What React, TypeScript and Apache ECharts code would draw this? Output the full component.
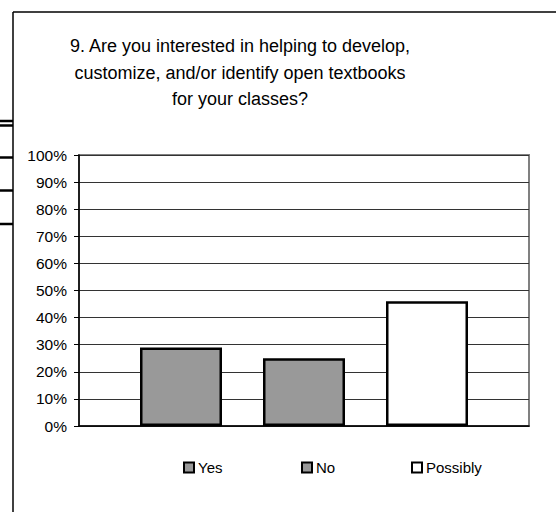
import React, { useEffect, useRef } from "react";
import * as echarts from "echarts";

const titleLines = [
  "9. Are you interested in helping to develop,",
  "customize, and/or identify open textbooks",
  "for your classes?",
];
const categories = [""];
const seriesNames = ["Yes", "No", "Possibly"];
const seriesValues = [29, 25, 46];
const seriesFills = ["#999999", "#999999", "#ffffff"];
const legendLefts = [183, 301, 411];

const FONT = "'Liberation Sans', Arial, sans-serif";

export default function App() {
  const ref = useRef<HTMLDivElement>(null);
  useEffect(() => {
    if (!ref.current) return;
    const chart = echarts.init(ref.current, null, { renderer: "svg" });
    const stubYs = [121, 125.5, 157.5, 190.5, 224];
    chart.setOption({
      animation: false,
      backgroundColor: "#ffffff",
      title: {
        text: titleLines.join("\n"),
        left: 240,
        top: 33,
        padding: 0,
        textAlign: "center",
        textStyle: {
          fontFamily: FONT,
          fontSize: 18,
          fontWeight: "normal",
          color: "#000",
          lineHeight: 26.5,
        },
      },
      legend: seriesNames.map((n, i) => ({
        data: [
          {
            name: n,
            icon: "rect",
            itemStyle: { color: seriesFills[i], borderColor: "#000", borderWidth: 2 },
          },
        ],
        left: legendLefts[i],
        top: 460,
        padding: 0,
        itemWidth: 10,
        itemHeight: 10,
        selectedMode: false,
        textStyle: { fontFamily: FONT, fontSize: 15, color: "#000", padding: [0, 0, 0, -1] },
      })),
      grid: {
        left: 79,
        right: 27,
        top: 155,
        bottom: 86,
        show: true,
        borderColor: "#808080",
        borderWidth: 2,
        containLabel: false,
      },
      xAxis: {
        type: "category",
        data: categories,
        axisLine: { show: true, lineStyle: { color: "#000", width: 1.5 } },
        axisTick: { show: false },
        axisLabel: { show: false },
        splitLine: { show: false },
      },
      yAxis: {
        type: "value",
        min: 0,
        max: 100,
        interval: 10,
        axisLine: { show: true, lineStyle: { color: "#000", width: 1.5 } },
        axisTick: { show: true, length: 5, lineStyle: { color: "#000", width: 1 } },
        axisLabel: {
          formatter: "{value}%",
          fontFamily: FONT,
          fontSize: 15.5,
          color: "#000",
          margin: 12,
        },
        splitLine: { show: true, lineStyle: { color: "#333", width: 1 } },
      },
      series: seriesNames.map((n, i) => ({
        name: n,
        type: "bar",
        data: [seriesValues[i]],
        barWidth: 82,
        barGap: "50%",
        itemStyle: { color: seriesFills[i], borderColor: "#000", borderWidth: 2.5 },
      })),
      graphic: [
        { type: "line", shape: { x1: 13, y1: 12, x2: 556, y2: 12 }, style: { stroke: "#000", lineWidth: 1.5 } },
        { type: "line", shape: { x1: 13, y1: 12, x2: 13, y2: 512 }, style: { stroke: "#000", lineWidth: 1.5 } },
        ...stubYs.map((y) => ({
          type: "line",
          shape: { x1: 0, y1: y, x2: 13, y2: y },
          style: { stroke: "#000", lineWidth: 2.5 },
        })),
      ],
    });
    return () => chart.dispose();
  }, []);
  return (
    <div
      ref={ref}
      style={{ position: "fixed", left: 0, top: 0, width: 556, height: 512 }}
    />
  );
}
